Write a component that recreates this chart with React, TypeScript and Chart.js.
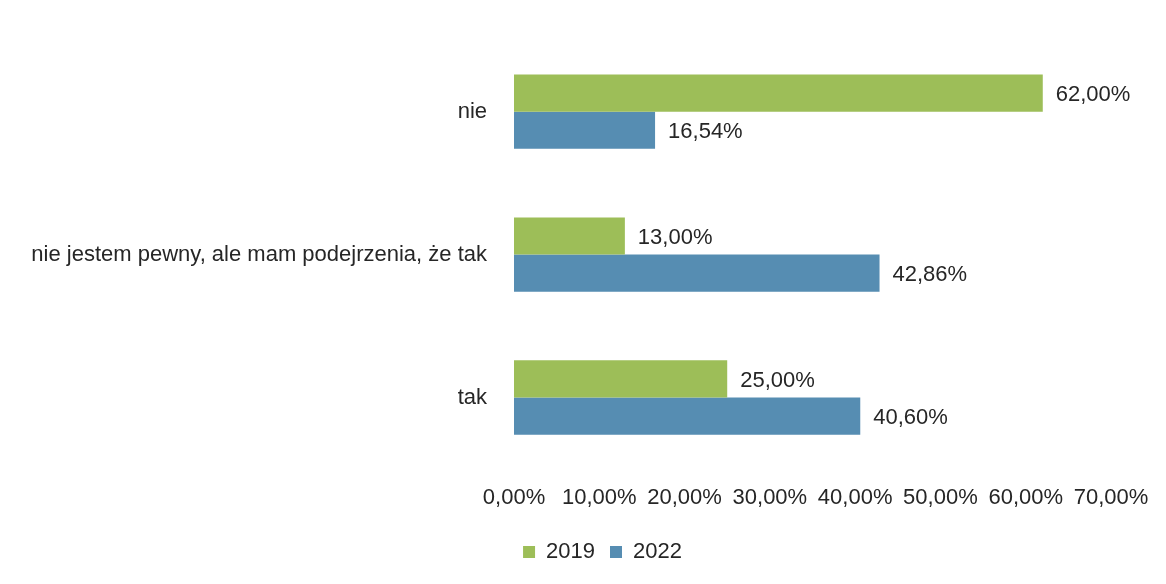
import React, { useEffect, useRef } from "react";
import { Chart, registerables } from "chart.js";

Chart.register(...registerables);

const categories = ["nie", "nie jestem pewny, ale mam podejrzenia, że tak", "tak"];
const values2019 = [62.0, 13.0, 25.0];
const values2022 = [16.54, 42.86, 40.6];
const seriesNames = ["2019", "2022"];
const axisMin = 0;
const axisMax = 70;
const axisStep = 10;

const FONT = "'Liberation Sans', 'Noto Sans', sans-serif";
const TEXT = "#262626";

const fmt = (v: number) => v.toFixed(2).replace(".", ",") + "%";

const valueLabels = {
  id: "valueLabels",
  afterDatasetsDraw(chart: any) {
    const ctx = chart.ctx;
    ctx.save();
    ctx.font = `22px ${FONT}`;
    ctx.fillStyle = TEXT;
    ctx.textAlign = "left";
    ctx.textBaseline = "middle";
    chart.data.datasets.forEach((ds: any, i: number) => {
      const meta = chart.getDatasetMeta(i);
      meta.data.forEach((el: any, j: number) => {
        ctx.fillText(fmt(ds.data[j]), el.x + 13, el.y + 2);
      });
    });
    ctx.restore();
  },
};

export default function App() {
  const ref = useRef<HTMLCanvasElement | null>(null);
  useEffect(() => {
    document.body.style.margin = "0";
    const chart = new Chart(ref.current as HTMLCanvasElement, {
      type: "bar",
      data: {
        labels: categories,
        datasets: [
          {
            label: seriesNames[0],
            data: values2019,
            backgroundColor: "#9DBE58",
            categoryPercentage: 0.52,
            barPercentage: 1,
          },
          {
            label: seriesNames[1],
            data: values2022,
            backgroundColor: "#568DB2",
            categoryPercentage: 0.52,
            barPercentage: 1,
          },
        ],
      },
      options: {
        indexAxis: "y",
        animation: false,
        responsive: false,
        maintainAspectRatio: false,
        layout: { padding: { top: 40, right: 55, bottom: 11, left: 94 } },
        scales: {
          x: {
            min: axisMin,
            max: axisMax,
            grid: { display: false, drawTicks: false },
            border: { display: false },
            afterFit: (scale: any) => {
              scale.height = 57;
            },
            ticks: {
              stepSize: axisStep,
              color: TEXT,
              font: { family: FONT, size: 22 },
              padding: 16,
              maxRotation: 0,
              autoSkip: false,
              callback: (v: any) => fmt(Number(v)),
            },
          },
          y: {
            grid: { display: false, drawTicks: false },
            border: { display: false },
            afterFit: (scale: any) => {
              scale.width = 514 - 94;
              // let long category labels extend past the padded left edge
              scale._computeLabelArea = () => undefined;
            },
            ticks: {
              color: TEXT,
              font: { family: FONT, size: 22 },
              padding: 27,
            },
          },
        },
        plugins: {
          legend: {
            position: "bottom",
            labels: {
              boxWidth: 12,
              boxHeight: 12,
              padding: 15,
              color: TEXT,
              font: { family: FONT, size: 22 },
            },
          },
          tooltip: { enabled: false },
        },
      },
      plugins: [valueLabels],
    });
    return () => chart.destroy();
  }, []);
  return <canvas ref={ref} width={1166} height={584} style={{ display: "block" }} />;
}
